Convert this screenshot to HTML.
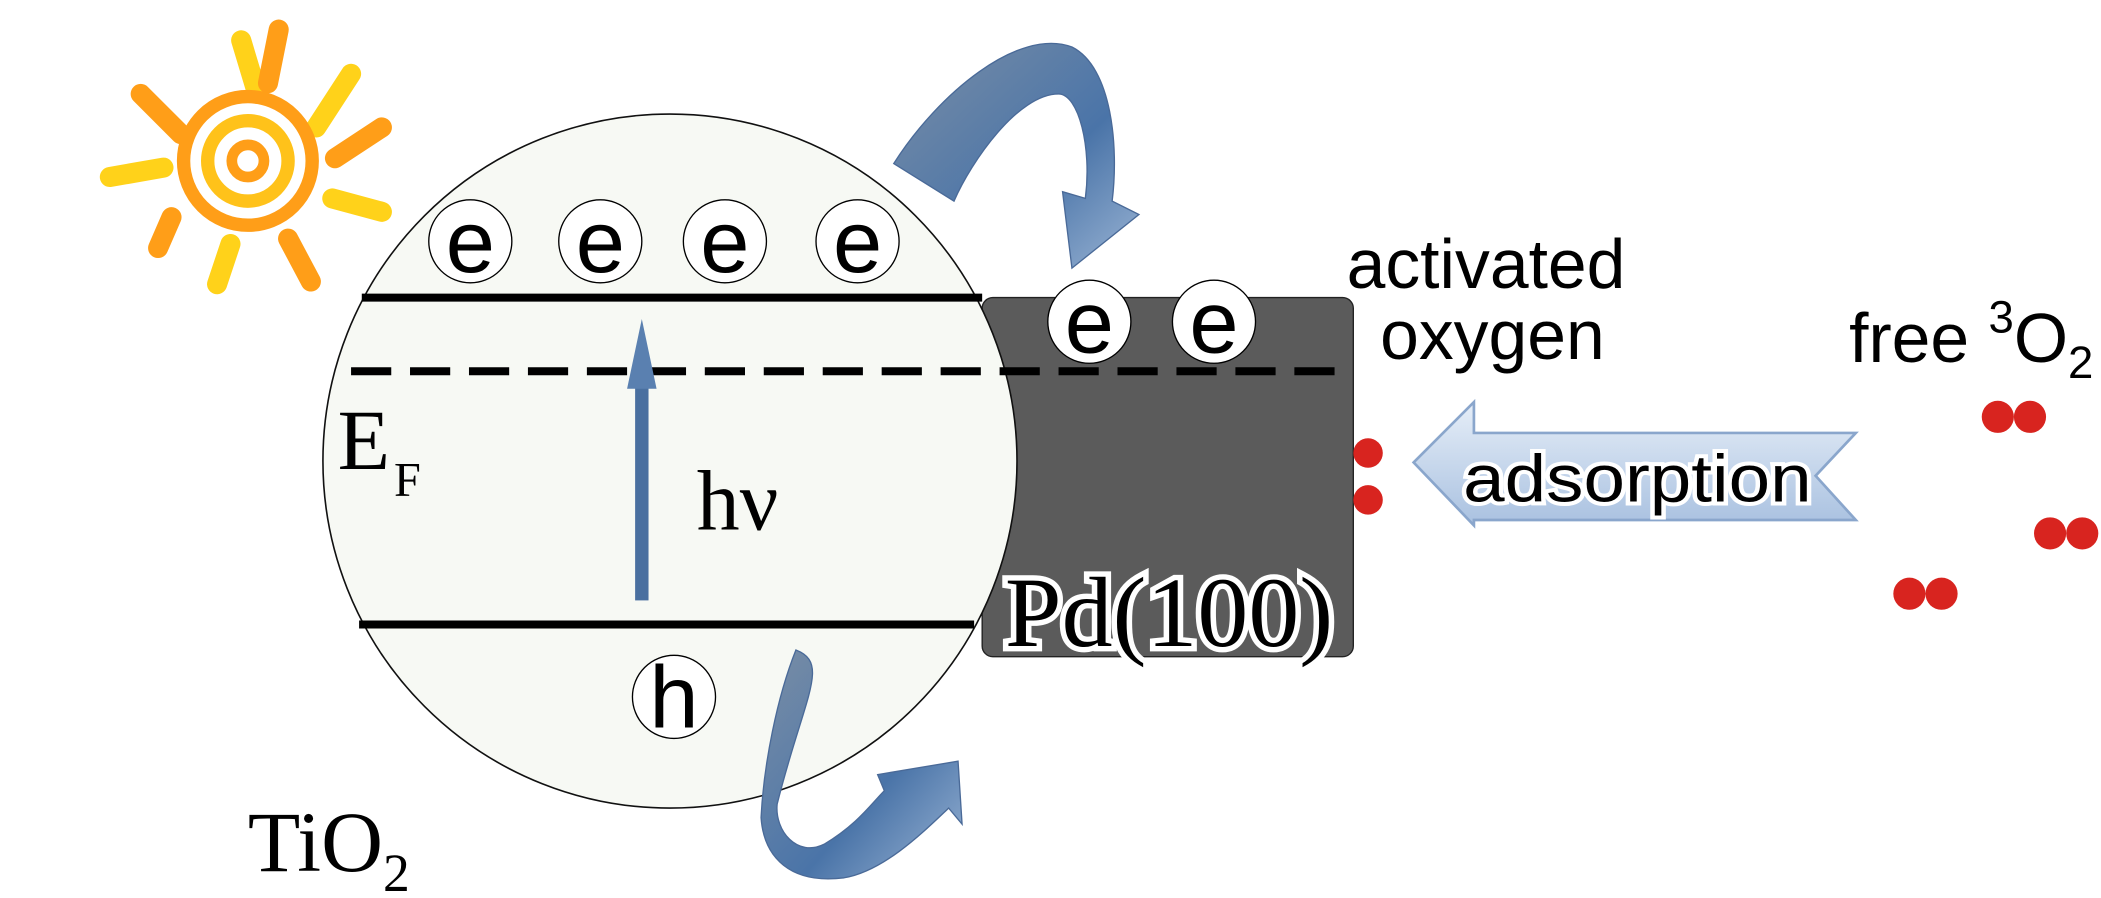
<!DOCTYPE html>
<html><head><meta charset="utf-8"><style>html,body{margin:0;padding:0;background:#fff}svg{display:block}</style></head>
<body>
<svg width="2101" height="898" viewBox="0 0 1568 670" xmlns="http://www.w3.org/2000/svg">
<defs>
<linearGradient id="bl" x1="0" y1="0" x2="1" y2="1"><stop offset="0" stop-color="#7a8ea6"/><stop offset="0.6" stop-color="#4a74a8"/><stop offset="1" stop-color="#9ab4d4"/></linearGradient>
<linearGradient id="ad" x1="0" y1="0" x2="0" y2="1"><stop offset="0" stop-color="#e6eef8"/><stop offset="1" stop-color="#a9c1e0"/></linearGradient>
</defs>
<!-- sun -->
<g stroke-linecap="round" fill="none">
<g stroke="#ffd21a" stroke-width="15">
<line x1="180" y1="30" x2="192" y2="70"/><line x1="82" y1="132" x2="122" y2="125"/><line x1="248" y1="148" x2="285" y2="158"/><line x1="262" y1="55" x2="236" y2="95"/><line x1="172" y1="182" x2="162" y2="212"/>
</g>
<g stroke="#ff9e18" stroke-width="15">
<line x1="208" y1="22" x2="200" y2="62"/><line x1="105" y1="70" x2="135" y2="100"/><line x1="285" y1="95" x2="250" y2="118"/><line x1="215" y1="178" x2="232" y2="210"/><line x1="128" y1="162" x2="118" y2="185"/>
</g>
<circle cx="185" cy="120" r="48" stroke="#ff9e18" stroke-width="10"/>
<circle cx="185" cy="120" r="30" stroke="#ffc21a" stroke-width="10"/>
<circle cx="185" cy="120" r="12" stroke="#ff9e18" stroke-width="8"/>
</g>
<!-- Pd box -->
<rect x="733" y="222" width="277" height="268" rx="8" fill="#5b5b5b" stroke="#222" stroke-width="1"/>
<!-- circle -->
<circle cx="500" cy="344" r="259" fill="#f7f9f4" stroke="#111" stroke-width="1.2"/>
<line x1="270" y1="222" x2="733" y2="222" stroke="#000" stroke-width="6"/>
<line x1="268" y1="466" x2="727" y2="466" stroke="#000" stroke-width="6"/>
<line x1="262" y1="277" x2="1005" y2="277" stroke="#000" stroke-width="6" stroke-dasharray="30,14"/>
<g font-family="Liberation Sans, sans-serif" font-size="66" text-anchor="middle">
<g fill="#fff" stroke="#000" stroke-width="1">
<circle cx="351" cy="180" r="31"/><circle cx="448" cy="180" r="31"/><circle cx="541" cy="180" r="31"/><circle cx="640" cy="180" r="31"/>
<circle cx="813" cy="240" r="31"/><circle cx="906" cy="240" r="31"/><circle cx="503" cy="520" r="31"/>
</g>
<text x="351" y="203">e</text><text x="448" y="203">e</text><text x="541" y="203">e</text><text x="640" y="203">e</text>
<text x="813" y="263">e</text><text x="906" y="263">e</text><text x="503" y="543">h</text>
</g>
<!-- hv arrow -->
<rect x="474" y="280" width="10" height="168" fill="#4a70a0"/>
<polygon points="468,290 479,238 490,290" fill="#5a80b0"/>
<g font-family="Liberation Serif, serif" fill="#000">
<text x="252" y="350" font-size="64">E</text><text x="294" y="370" font-size="36">F</text>
<text x="520" y="395" font-size="64">hν</text>
<text x="185" y="650" font-size="64">TiO<tspan font-size="40" dy="15">2</tspan></text>
<text x="750" y="482" font-size="74" stroke="#fff" stroke-width="8" paint-order="stroke" textLength="245" lengthAdjust="spacingAndGlyphs">Pd(100)</text>
</g>
<g font-family="Liberation Sans, sans-serif" font-size="52" fill="#000">
<text x="1005" y="215">activated</text><text x="1030" y="268">oxygen</text>
<text x="1380" y="270">free <tspan font-size="34" dy="-22">3</tspan><tspan dy="22">O</tspan><tspan font-size="34" dy="12">2</tspan></text>
</g>
<!-- adsorption arrow -->
<polygon points="1055,345 1100,300 1100,323 1385,323 1355,355 1385,388 1100,388 1100,392" fill="url(#ad)" stroke="#8aa6cc" stroke-width="2"/>
<text x="1092" y="374" font-family="Liberation Sans, sans-serif" font-size="50" fill="#000" stroke="#fff" stroke-width="6" paint-order="stroke" textLength="260" lengthAdjust="spacingAndGlyphs">adsorption</text>
<!-- red dots -->
<g fill="#d8241f">
<circle cx="1021" cy="338" r="11"/><circle cx="1021" cy="373" r="11"/>
<circle cx="1491" cy="311" r="12"/><circle cx="1515" cy="311" r="12"/>
<circle cx="1530" cy="398" r="12"/><circle cx="1554" cy="398" r="12"/>
<circle cx="1425" cy="443" r="12"/><circle cx="1449" cy="443" r="12"/>
</g>
<!-- curved arrows -->
<path d="M667,122 C700,70 760,20 800,35 C830,50 835,110 830,150 L850,160 L800,200 L793,143 L810,148 C815,110 805,70 790,70 C760,70 725,120 712,150 Z" fill="url(#bl)" stroke="#4a6a98" stroke-width="1"/>
<path d="M594,485 C620,495 600,520 580,600 C578,620 595,640 615,630 C640,615 650,600 660,590 L655,578 L715,568 L718,615 L708,603 C690,620 660,650 630,655 C590,660 570,640 568,610 C570,570 580,520 594,485 Z" fill="url(#bl)" stroke="#4a6a98" stroke-width="1"/>
</svg>
</body></html>
